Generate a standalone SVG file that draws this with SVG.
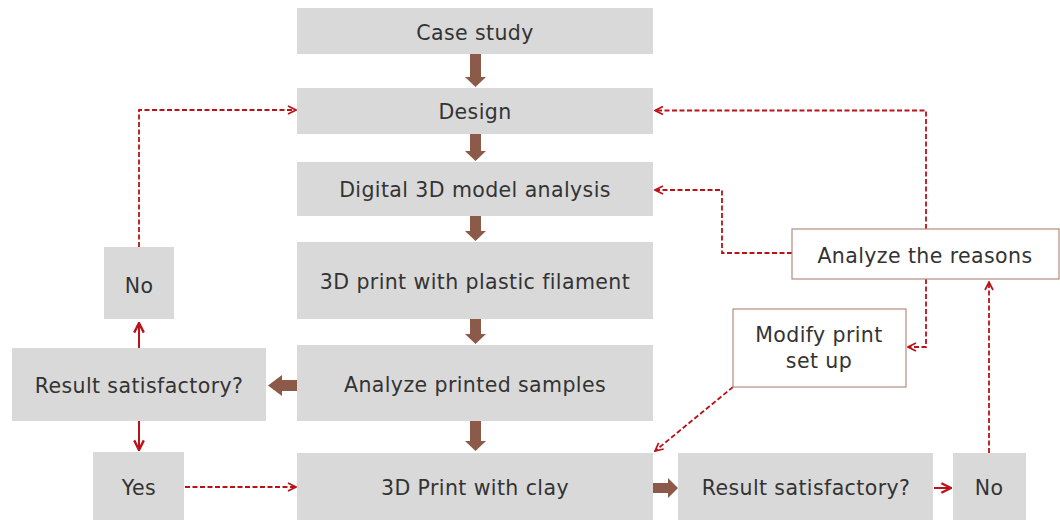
<svg xmlns="http://www.w3.org/2000/svg" width="1060" height="520" viewBox="0 0 1060 520">
<defs>
<style>
.box{fill:#d9d9d9}
.wbox{fill:#ffffff;stroke:#b48a7e;stroke-width:1.2}
.t{font-family:"DejaVu Sans",sans-serif;font-size:20.5px;letter-spacing:0.4px;fill:#333333;text-anchor:middle}
.brown{fill:#8c5a48}
.dash{fill:none;stroke:#bb1219;stroke-width:1.8;stroke-dasharray:5 2.5}
.solid{fill:none;stroke:#bb1219;stroke-width:2}
</style>
<marker id="chev" viewBox="0 0 10 10" refX="9" refY="5" markerWidth="10" markerHeight="10" markerUnits="userSpaceOnUse" orient="auto">
<path d="M1,1 L9,5 L1,9" fill="none" stroke="#bb1219" stroke-width="1.7"/>
</marker>
<marker id="chevS" viewBox="0 0 10 10" refX="9" refY="5" markerWidth="12" markerHeight="12" markerUnits="userSpaceOnUse" orient="auto">
<path d="M1,1 L9,5 L1,9" fill="none" stroke="#bb1219" stroke-width="2"/>
</marker>
</defs>
<rect width="1060" height="520" fill="#ffffff"/>

<g id="connectors">
<path class="brown" d="M470,54 H481 V77 H486 L475.5,87 L465,77 H470 Z"/>
<path class="brown" d="M470,134 H481 V151 H486 L475.5,161 L465,151 H470 Z"/>
<path class="brown" d="M470,216 H481 V231 H486 L475.5,241 L465,231 H470 Z"/>
<path class="brown" d="M470,319 H481 V334 H486 L475.5,344 L465,334 H470 Z"/>
<path class="brown" d="M470,421 H481 V441 H486 L475.5,451 L465,441 H470 Z"/>
<path class="brown" d="M297,380 V391 H282 V396 L268,385.5 L282,375 V380 Z"/>
<path class="brown" d="M653,483 V493 H668 V498 L678,488 L668,478 V483 Z"/>
<path class="solid" d="M139,348 V323" marker-end="url(#chevS)"/>
<path class="solid" d="M139,421 V450" marker-end="url(#chevS)"/>
<path class="solid" d="M934,488 H951" marker-end="url(#chevS)"/>
<path class="dash" d="M139,247 V110 H296" marker-end="url(#chev)"/>
<path class="dash" d="M185,487 H296" marker-end="url(#chev)"/>
<path class="dash" d="M926,229 V110.5 H655" marker-end="url(#chev)"/>
<path class="dash" d="M792,253 H722 V190 H655" marker-end="url(#chev)"/>
<path class="dash" d="M926,279 V347 H908" marker-end="url(#chev)"/>
<path class="dash" d="M989,453 V282" marker-end="url(#chev)"/>
<path class="dash" d="M733,387 L655,451" marker-end="url(#chev)"/>
</g>

<g id="case-study"><rect class="box" x="297" y="8" width="356" height="46"/><text class="t" x="475" y="39.5">Case study</text></g>
<g id="design"><rect class="box" x="297" y="88" width="356" height="46"/><text class="t" x="475" y="119">Design</text></g>
<g id="digital"><rect class="box" x="297" y="162" width="356" height="54"/><text class="t" x="475" y="197">Digital 3D model analysis</text></g>
<g id="plastic"><rect class="box" x="297" y="242" width="356" height="77"/><text class="t" x="475" y="289">3D print with plastic filament</text></g>
<g id="analyze-samples"><rect class="box" x="297" y="345" width="356" height="76"/><text class="t" x="475" y="392">Analyze printed samples</text></g>
<g id="clay"><rect class="box" x="297" y="453" width="356" height="67"/><text class="t" x="475" y="495">3D Print with clay</text></g>
<g id="no-left"><rect class="box" x="104" y="247" width="70" height="72"/><text class="t" x="139" y="293">No</text></g>
<g id="result-left"><rect class="box" x="12" y="348" width="254" height="73"/><text class="t" x="139" y="393">Result satisfactory?</text></g>
<g id="yes"><rect class="box" x="93" y="452" width="91" height="68"/><text class="t" x="139" y="495">Yes</text></g>
<g id="result-right"><rect class="box" x="678" y="453" width="255" height="67"/><text class="t" x="806" y="495">Result satisfactory?</text></g>
<g id="no-right"><rect class="box" x="953" y="453" width="73" height="67"/><text class="t" x="989" y="495">No</text></g>
<g id="analyze-reasons"><rect class="wbox" x="792" y="229" width="267" height="50"/><text class="t" x="925" y="262.5">Analyze the reasons</text></g>
<g id="modify"><rect class="wbox" x="733" y="309" width="173" height="78"/><text class="t" x="819" y="342">Modify print</text><text class="t" x="819" y="368">set up</text></g>
</svg>
